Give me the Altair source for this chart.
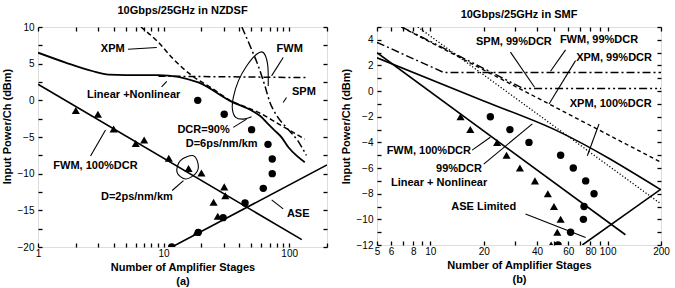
import altair as alt
import pandas as pd

FONT = "Liberation Sans"

# ---------------- panel (a): 10Gbps/25GHz in NZDSF ----------------
a_lin_n = [1, 1.66, 2.7, 3.66, 5, 9.1, 18.9, 33.8, 51.7, 58.5, 68.1, 77.1, 87, 98.6, 114.5, 133]
a_lin_p = [6.5, 5.15, 4.0, 3.5, 3.45, 3.45, 2.44, -0.07, -1.51, -2.11, -3.24, -4.15, -5.05, -6.4, -7.55, -8.45]

a_xpm_n = [6.6, 9.1, 12, 17, 24, 33.8, 45, 57, 82, 133]
a_xpm_p = [10, 7.9, 5.6, 3.3, 1.7, 0.0, -0.9, -1.65, -3.2, -5.3]

a_spm_n = [42, 50, 57, 64, 70, 79, 95, 117, 137]
a_spm_p = [10, 7.0, 4.6, 2.0, -0.2, -2.0, -3.7, -5.5, -7.5]

a_fwm_n = [9.1, 140]
a_fwm_p = [3.3, 3.1]

a_fit_n = [1, 126]
a_fit_p = [2.2, -19.0]

a_ase_n = [11.65, 200]
a_ase_p = [-20, -8.8]

a_tri_n = [2, 3, 4, 6, 7, 11, 15.8, 20, 30.4, 31, 25, 27, 18.3]
a_tri_p = [-1.4, -1.9, -3.9, -5.9, -5.4, -7.9, -9.3, -9.9, -11.8, -13, -13.9, -15.8, -18]

a_cir_n = [18.7, 30.4, 50.2, 67.8, 73.3, 73.3, 62.2, 44.5, 29.8, 18.9, 11.6]
a_cir_p = [0, -1.9, -4, -6, -8, -10, -12, -14, -16, -18, -20]

a_text = ["XPM", "Linear +Nonlinear", "FWM", "SPM", "DCR=90%", "D=6ps/nm/km",
          "FWM, 100%DCR", "D=2ps/nm/km", "ASE"]
a_text_n = [3.94, 5.78, 101, 131, 20.8, 29.0, 2.87, 6.13, 118]
a_text_p = [6.97, 0.75, 6.97, 1.07, -4.05, -5.96, -8.91, -13.2, -15.5]

# leader segments: (n0, p0, n1, p1)
a_leaders = [
    (5.2, 6.97, 8.83, 7.2),
    (9.64, 1.84, 10.6, 2.57),
    (89.6, 5.84, 72.4, 3.33),
    (95.2, 0.39, 89.6, -0.29),
    (35.9, -3.69, 45.8, -2.56),
    (3.45, -4.05, 2.62, -7.59),
    (72.5, -13.58, 89.6, -14.8),
    (14.4, -10.95, 11.7, -12.3),
]

# lasso around the DCR=90% crossings
a_loop1_n = [68.1, 67.3, 62.2, 55.0, 45.8, 39.4, 35.9, 35.3, 37.5, 43.1, 50.2]
a_loop1_p = [1.97, 4.93, 6.52, 6.29, 4.69, 2.65, 0.39, -1.2, -2.33, -2.56, -2.24]
# ring around the D=2ps/nm/km points
a_loop2_n = [17.3, 18.9, 17.9, 14.9, 12.8, 13.6]
a_loop2_p = [-7.55, -8.91, -10.04, -10.72, -9.81, -8.23]

# ---------------- panel (b): 10Gbps/25GHz in SMF ----------------
b_steep_n = [5, 126]
b_steep_p = [3.0, -11.2]

b_lin_n = [5, 20, 52, 200]
b_lin_p = [2.6, -0.77, -3.1, -7.7]

b_fwm_n = [5, 11.9, 200]
b_fwm_p = [3.8, 1.45, 1.45]

b_spm_n = [6.9, 33.5, 200]
b_spm_p = [5.0, 0.2, 0.2]

b_xpm99_n = [6.85, 200]
b_xpm99_p = [5.0, -5.55]

b_xpm100_n = [8.5, 200]
b_xpm100_p = [5.0, -8.8]

b_ase_n = [72, 200]
b_ase_p = [-12, -7.64]

b_tri_n = [14.8, 16.8, 23.8, 26.9, 32, 38.9, 46, 49.8, 54.3, 52, 48]
b_tri_p = [-2, -3, -4, -5, -6, -7, -8, -9, -10, -11, -12]

b_cir_n = [21.8, 28.1, 36, 54.3, 64, 75.2, 83.8, 73.6, 73, 61.8, 52.5]
b_cir_p = [-2, -3, -4, -5, -6, -7, -8, -9, -10, -11, -12]

b_text = ["SPM, 99%DCR", "FWM, 99%DCR", "XPM, 99%DCR", "XPM, 100%DCR",
          "FWM, 100%DCR", "99%DCR", "Linear + Nonlinear", "ASE Limited"]
b_text_n = [29.6, 89.4, 108.7, 104, 9.8, 14.5, 11.2, 20.0]
b_text_p = [3.82, 3.95, 2.59, -1.0, -4.65, -6.08, -7.2, -9.02]

b_leaders = [
    (28.3, 3.04, 38.7, 0.30),
    (57.9, 3.22, 47.6, 1.55),
    (65.9, 2.38, 46.7, -1.0),
    (89.4, -2.56, 76.8, -5.04),
    (17.2, -4.6, 21.8, -3.6),
    (20.0, -5.69, 37.6, -2.56),
    (34.4, -9.59, 75.1, -11.41),
]

# axis values
a_xlab = [1, 10, 100]
a_xtick = [1, 2, 3, 4, 5, 6, 7, 8, 9, 10, 20, 30, 40, 50, 60, 70, 80, 90, 100, 200]
a_ylab = [-20, -15, -10, -5, 0, 5, 10]
a_ytick = [-20, -17.5, -15, -12.5, -10, -7.5, -5, -2.5, 0, 2.5, 5, 7.5, 10]

b_xlab = [5, 6, 8, 10, 20, 40, 60, 80, 100, 200]
b_xtick = [5, 6, 7, 8, 9, 10, 20, 30, 40, 50, 60, 70, 80, 90, 100, 200]
b_ylab = [-12, -10, -8, -6, -4, -2, 0, 2, 4]
b_ytick = list(range(-12, 6))


def pts(n, p):
    return pd.DataFrame({"N": n, "P": p, "o": list(range(len(n)))})


def segs(rows):
    recs = []
    for i, (n0, p0, n1, p1) in enumerate(rows):
        recs.append({"N": n0, "P": p0, "g": i, "o": 0})
        recs.append({"N": n1, "P": p1, "g": i, "o": 1})
    return pd.DataFrame(recs)


def panel(spec, W, H, xdom, ydom, xlab, xtick, ylab, ytick, title, sub):
    xs = alt.Scale(type="log", domain=xdom, nice=False)
    ys = alt.Scale(domain=ydom, nice=False, zero=False)

    def enc(xaxis=None, yaxis=None):
        return dict(x=alt.X("N:Q", scale=xs, axis=xaxis),
                    y=alt.Y("P:Q", scale=ys, axis=yaxis))

    layers = []
    # axis carriers: labels + inward ticks on all four sides
    corner = pd.DataFrame({"N": [xdom[0]], "P": [ydom[0]]})
    tick_kw = dict(labels=False, ticks=True, tickSize=4, tickWidth=1.3,
                   tickColor="black", domain=False, grid=False, title=None)
    layers.append(alt.Chart(corner).mark_point(opacity=0).encode(**enc(
        alt.Axis(orient="bottom", values=xlab, format="d", labelOverlap=False,
                 labelFlush=False, ticks=False, tickSize=0, domain=False, grid=False,
                 labelPadding=1, title=["Number of Amplifier Stages", sub],
                 titlePadding=3, titleLineHeight=14),
        alt.Axis(orient="left", values=ylab, format="d", labelOverlap=False,
                 ticks=False, tickSize=0, domain=False, grid=False,
                 labelPadding=4, title="Input Power/Ch (dBm)", titlePadding=5,
                 titleY=99))))
    layers.append(alt.Chart(corner).mark_point(opacity=0).encode(**enc(
        alt.Axis(orient="top", offset=-H, values=xtick, **tick_kw),
        alt.Axis(orient="right", offset=-W, values=ytick, **tick_kw))))
    layers.append(alt.Chart(corner).mark_point(opacity=0).encode(**enc(
        alt.Axis(orient="bottom", offset=-H, values=xtick, **tick_kw),
        alt.Axis(orient="left", offset=-W, values=ytick, **tick_kw))))

    for n, p, dash, w, interp in spec["lines"]:
        kw = dict(color="black", strokeWidth=w, clip=True, interpolate=interp)
        if dash:
            kw["strokeDash"] = dash
        layers.append(alt.Chart(pts(n, p)).mark_line(**kw).encode(
            order="o:Q", **enc()))

    for n, p, interp in spec.get("loops", []):
        layers.append(alt.Chart(pts(n, p)).mark_line(
            color="black", strokeWidth=1.1, interpolate=interp, clip=True).encode(
            order="o:Q", **enc()))

    layers.append(alt.Chart(segs(spec["leaders"])).mark_line(
        color="black", strokeWidth=1.1, clip=True).encode(
        detail="g:N", order="o:Q", **enc()))

    layers.append(alt.Chart(pts(*spec["tri"])).mark_point(
        shape="triangle-up", filled=True, color="black", size=66, opacity=1,
        clip=True).encode(**enc()))
    layers.append(alt.Chart(pts(*spec["cir"])).mark_point(
        shape="circle", filled=True, color="black", size=55, opacity=1,
        clip=True).encode(**enc()))

    tdf = pd.DataFrame({"N": spec["text"][1], "P": spec["text"][2], "t": spec["text"][0]})
    layers.append(alt.Chart(tdf).mark_text(
        font=FONT, fontSize=11, fontWeight="bold", color="black",
        align="center", baseline="middle").encode(text="t:N", **enc()))

    return alt.layer(*layers).resolve_axis(x="independent", y="independent").properties(
        width=W, height=H,
        title=alt.TitleParams(title, font=FONT, fontSize=11, fontWeight="bold",
                              color="black", offset=6, anchor="middle"))


spec_a = {
    "lines": [
        (a_lin_n, a_lin_p, None, 1.8, "monotone"),
        (a_xpm_n, a_xpm_p, [5, 3], 1.5, "monotone"),
        (a_spm_n, a_spm_p, [8, 3, 2, 3], 1.5, "monotone"),
        (a_fwm_n, a_fwm_p, [7, 3, 2, 3], 1.5, "linear"),
        (a_fit_n, a_fit_p, None, 1.6, "linear"),
        (a_ase_n, a_ase_p, None, 1.6, "linear"),
    ],
    "loops": [
        (a_loop1_n, a_loop1_p, "cardinal"),
        (a_loop2_n, a_loop2_p, "cardinal-closed"),
    ],
    "leaders": a_leaders,
    "tri": (a_tri_n, a_tri_p),
    "cir": (a_cir_n, a_cir_p),
    "text": (a_text, a_text_n, a_text_p),
}

spec_b = {
    "lines": [
        (b_steep_n, b_steep_p, None, 1.6, "linear"),
        (b_lin_n, b_lin_p, None, 1.6, "monotone"),
        (b_fwm_n, b_fwm_p, [8, 3, 2, 3], 1.4, "linear"),
        (b_spm_n, b_spm_p, [8, 3, 2, 3, 2, 3], 1.4, "linear"),
        (b_xpm99_n, b_xpm99_p, [4, 3], 1.4, "linear"),
        (b_xpm100_n, b_xpm100_p, [1.2, 2], 1.3, "linear"),
        (b_ase_n, b_ase_p, None, 1.6, "linear"),
    ],
    "leaders": b_leaders,
    "tri": (b_tri_n, b_tri_p),
    "cir": (b_cir_n, b_cir_p),
    "text": (b_text, b_text_n, b_text_p),
}

pa = panel(spec_a, 289, 220, [1, 200], [-20, 10], a_xlab, a_xtick, a_ylab, a_ytick,
           "10Gbps/25GHz in NZDSF", "(a)")
pb = panel(spec_b, 284, 218, [5, 200], [-12, 5], b_xlab, b_xtick, b_ylab, b_ytick,
           "10Gbps/25GHz in SMF", "(b)")

chart = alt.hconcat(pa, pb, spacing=10).properties(
    padding={"left": 0, "top": 4, "right": 0, "bottom": 0}
).configure_view(stroke="black", strokeWidth=1.8).configure_axis(
    labelFont=FONT, labelFontSize=11, labelFontWeight="bold", labelColor="black",
    titleFont=FONT, titleFontSize=11, titleFontWeight="bold", titleColor="black"
).configure(background="white")

chart.save("out.html", embed_options={"renderer": "svg", "actions": False})
